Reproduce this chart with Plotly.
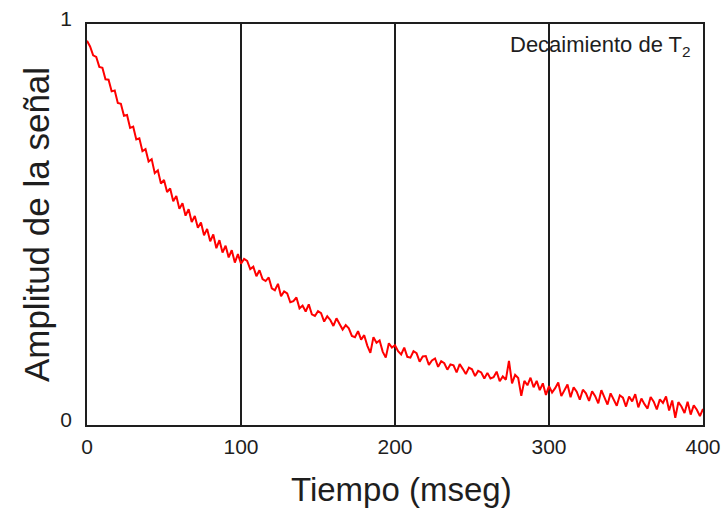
import plotly.graph_objects as go

# Time samples (ms), every 2 ms from 0 to 400
time_ms = list(range(0, 402, 2))

# Signal amplitude (noisy T2 decay)
amplitude = [
    0.958, 0.944, 0.922, 0.918, 0.893,
    0.891, 0.862, 0.861, 0.832, 0.834,
    0.803, 0.801, 0.771, 0.773, 0.741,
    0.744, 0.712, 0.715, 0.683, 0.688,
    0.657, 0.663, 0.628, 0.635, 0.602,
    0.611, 0.581, 0.590, 0.558, 0.571,
    0.539, 0.553, 0.522, 0.538, 0.506,
    0.521, 0.492, 0.505, 0.473, 0.489,
    0.458, 0.475, 0.441, 0.461, 0.430,
    0.447, 0.418, 0.436, 0.405, 0.426,
    0.402, 0.414, 0.409, 0.389, 0.395,
    0.371, 0.386, 0.364, 0.359, 0.368,
    0.341, 0.336, 0.352, 0.321, 0.333,
    0.328, 0.306, 0.309, 0.318, 0.291,
    0.298, 0.283, 0.301, 0.276, 0.272,
    0.284, 0.279, 0.258, 0.271, 0.262,
    0.247, 0.266, 0.252, 0.238, 0.249,
    0.241, 0.222, 0.219, 0.234, 0.213,
    0.224, 0.198, 0.180, 0.219, 0.205,
    0.211, 0.183, 0.168, 0.204, 0.193,
    0.199, 0.184, 0.176, 0.193, 0.170,
    0.168, 0.184, 0.179, 0.158, 0.171,
    0.172, 0.150, 0.161, 0.166, 0.145,
    0.159, 0.154, 0.138, 0.151, 0.149,
    0.131, 0.152, 0.140, 0.127, 0.143,
    0.139, 0.122, 0.135, 0.131, 0.116,
    0.130, 0.116, 0.119, 0.133, 0.109,
    0.121, 0.113, 0.160, 0.104, 0.125,
    0.117, 0.073, 0.110, 0.099, 0.118,
    0.094, 0.110, 0.087, 0.104, 0.075,
    0.097, 0.081, 0.092, 0.106, 0.072,
    0.086, 0.101, 0.069, 0.094, 0.083,
    0.063, 0.088, 0.079, 0.060, 0.084,
    0.072, 0.054, 0.087, 0.067, 0.051,
    0.079, 0.063, 0.048, 0.074, 0.068,
    0.046, 0.071, 0.059, 0.077, 0.044,
    0.066, 0.052, 0.041, 0.070, 0.058,
    0.039, 0.064, 0.055, 0.071, 0.036,
    0.061, 0.018, 0.057, 0.046, 0.030,
    0.058, 0.026, 0.049, 0.038, 0.022,
    0.040,
]

x_ticks = [0, 100, 200, 300, 400]
y_ticks = [0, 1]
x_title = "Tiempo (mseg)"
y_title = "Amplitud de la señal"
label = "Decaimiento de T<sub>2</sub>"

FONT = "Liberation Sans, Arial, sans-serif"
INK = "#1e1e1e"

fig = go.Figure()
fig.add_trace(go.Scatter(
    x=time_ms, y=amplitude, mode="lines",
    line=dict(color="#ff0000", width=2),
    showlegend=False, hoverinfo="skip",
))

fig.update_layout(
    width=727, height=509,
    margin=dict(l=87, r=24, t=24, b=84, autoexpand=False),
    paper_bgcolor="white", plot_bgcolor="white",
    font=dict(family=FONT, color=INK),
    xaxis=dict(
        range=[0, 400], tickvals=x_ticks, ticks="", showgrid=True,
        gridcolor=INK, gridwidth=1.5, zeroline=False, automargin=False,
        showline=True, linecolor=INK, linewidth=1.5, mirror=True,
        tickfont=dict(size=21, family=FONT, color=INK), ticklabelstandoff=2,
    ),
    yaxis=dict(
        range=[0, 1], tickvals=y_ticks, ticks="", showgrid=False, automargin=False,
        zeroline=False, showline=True, linecolor=INK, linewidth=1.5,
        mirror=True, tickfont=dict(size=21, family=FONT, color=INK),
        ticklabelstandoff=9, ticklabelshift=-5,
        title=dict(text=y_title, font=dict(size=35, family=FONT, color=INK), standoff=0),
    ),
    annotations=[
        dict(
            text=label, xref="paper", yref="paper", x=0.983, y=0.985,
            xanchor="right", yanchor="top", showarrow=False,
            font=dict(size=22, family=FONT, color=INK),
        ),
        dict(
            text=x_title, xref="paper", yref="paper", x=0.511, y=-0.162,
            xanchor="center", yanchor="middle", showarrow=False,
            font=dict(size=33, family=FONT, color=INK),
        ),
    ],
)

fig.write_html(
    "out.html",
    config={"displayModeBar": False},
    post_script="document.body.style.margin='0';document.body.style.padding='0';",
)
